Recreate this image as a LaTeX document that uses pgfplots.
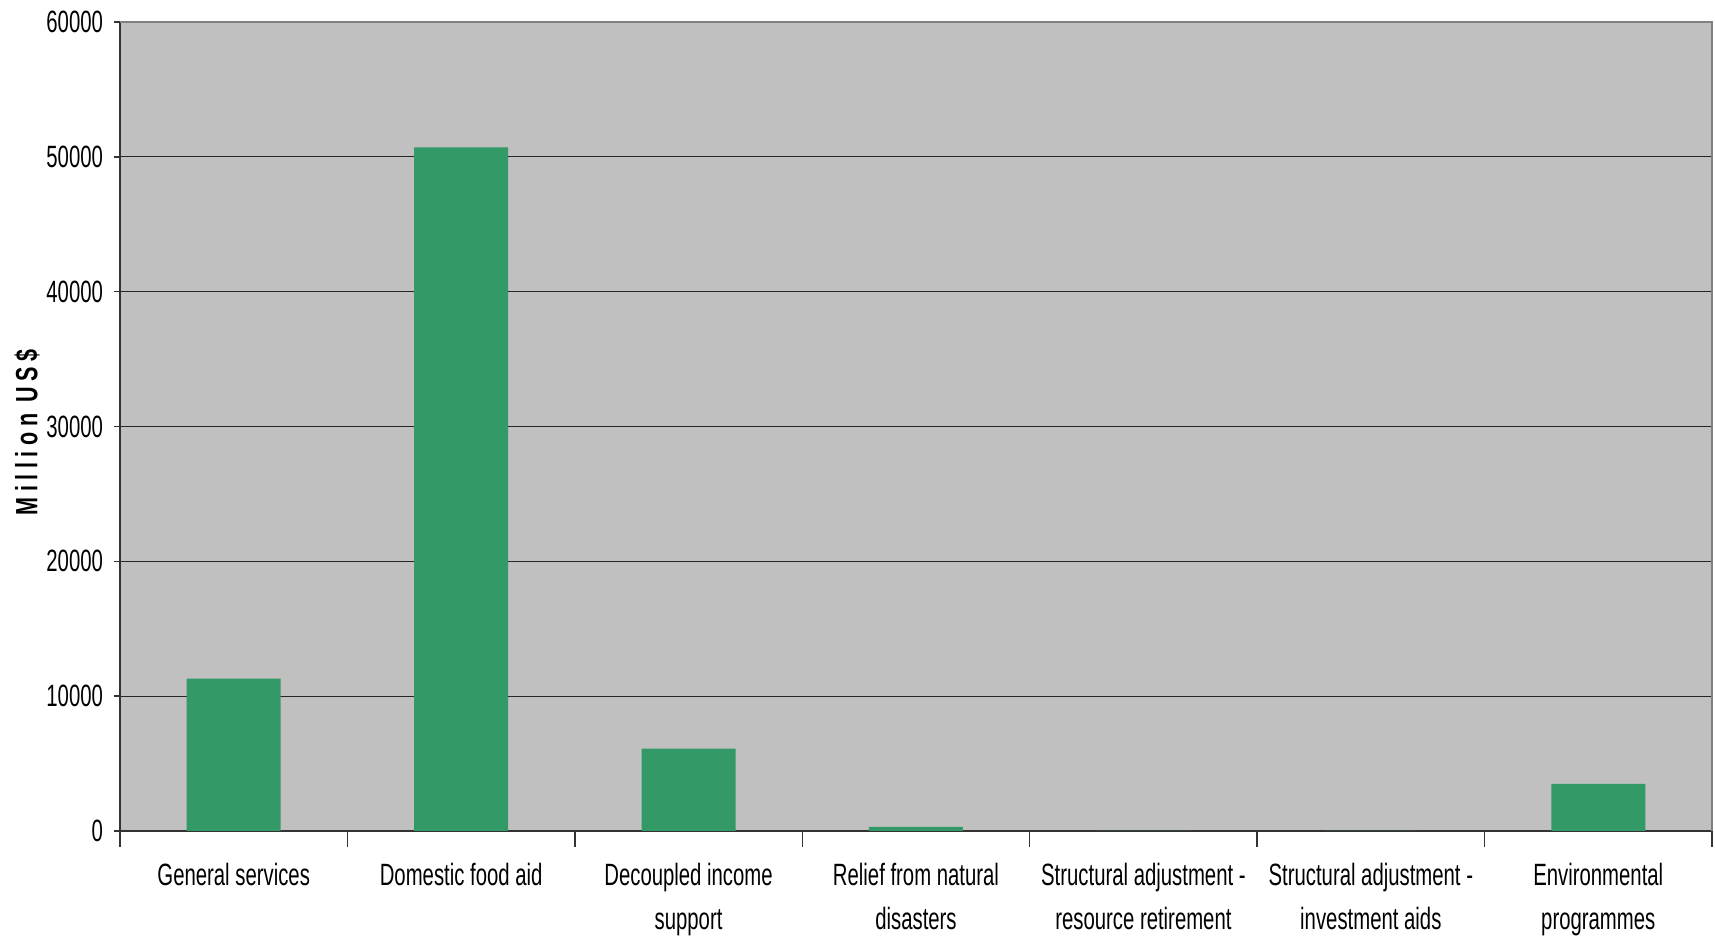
\documentclass[border=0pt]{standalone}
\usepackage{fontspec}
\setmainfont{Liberation Sans}[FakeStretch=0.66]
\newfontfamily\ylabfont{Liberation Sans}[FakeStretch=0.7,LetterSpace=18,BoldFont={Liberation Sans Bold}]
\usepackage{pgfplots}
\pgfplotsset{compat=1.18}
\definecolor{bgray}{HTML}{C0C0C0}
\definecolor{bargreen}{HTML}{339966}
\definecolor{frame}{HTML}{808080}
\begin{document}
\begin{tikzpicture}
\begin{axis}[
  scale only axis,
  width=796pt, height=404.5pt,
  xmin=-0.5, xmax=6.5,
  ymin=0, ymax=60000,
  axis background/.style={fill=bgray},
  axis x line=bottom, axis y line=left,
  axis line style={-, black!80, line width=0.9pt},
  xtick={0,1,2,3,4,5,6},
  xticklabels={General services, Domestic food aid, {Decoupled income\\support}, {Relief from natural\\disasters}, {Structural adjustment -\\resource retirement}, {Structural adjustment -\\investment aids}, {Environmental\\programmes}},
  minor xtick={-0.5,0.5,...,6.5},
  x tick style={draw=none},
  minor x tick style={draw=black!80, line width=0.7pt},
  minor tick length=8pt,
  ytick={0,10000,...,60000},
  major tick length=3pt,
  tick align=outside,
  y tick style={black!80, line width=0.7pt},
  scaled y ticks=false,
  /pgf/number format/.cd, 1000 sep={}, assume math mode=true, /pgfplots/.cd,
  ymajorgrids,
  grid style={black!85, line width=0.6pt},
  tick label style={font=\fontsize{15.4}{22}\selectfont},
  xticklabel style={align=center, anchor=north, inner sep=0pt, yshift=-13pt},
  yticklabel style={xshift=-2pt},
  ylabel={\ylabfont\bfseries Million US\$},
  ylabel style={at={(axis description cs:-0.0584,0.493)}, anchor=center, font=\fontsize{15.4}{18}\selectfont},
  clip=false,
]
\addplot[ybar, bar width=47pt, fill=bargreen, draw=none] coordinates {
  (0,11300) (1,50700) (2,6100) (3,300) (4,0) (5,0) (6,3500)
};
\draw[frame, line width=1.4pt] (rel axis cs:0,1) -- (rel axis cs:1,1) -- (rel axis cs:1,0);
\end{axis}
\pgfresetboundingbox
\path (-60pt,-54.5pt) rectangle (797.5pt,415.5pt);
\end{tikzpicture}
\end{document}
